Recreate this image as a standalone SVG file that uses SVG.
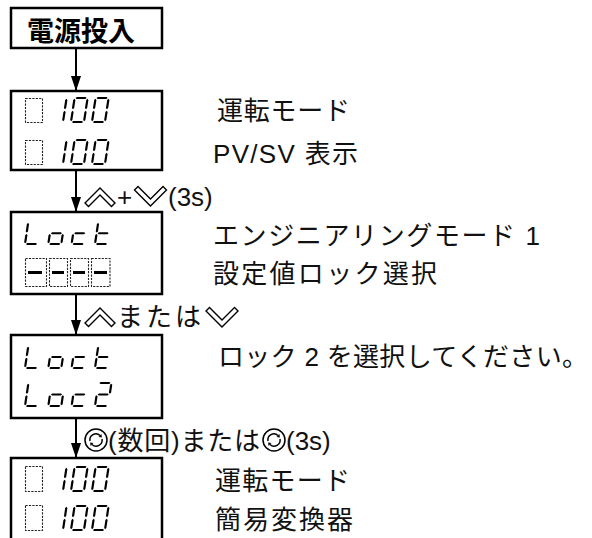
<svg xmlns="http://www.w3.org/2000/svg" width="592" height="538" viewBox="0 0 592 538">
<style>
.box{fill:none;stroke:#000;stroke-width:2.5}
.lbl{font-family:"Liberation Sans","Noto Sans CJK JP",sans-serif;font-size:26px;fill:#111}
.ttl{font-family:"Noto Sans CJK JP","Liberation Sans",sans-serif;font-size:27px;font-weight:bold;fill:#000}
.dash{fill:none;stroke:#222;stroke-width:1.1;stroke-dasharray:2.2 1.2}
.bar{fill:#000}
.conn{stroke:#000;stroke-width:2;fill:none}
.chev{fill:#fff;stroke:#000;stroke-width:1.4;stroke-linejoin:miter}
</style>
<defs>
<marker id="ah" markerUnits="userSpaceOnUse" markerWidth="15" markerHeight="10" refX="15" refY="5" orient="auto"><path d="M0,0 L15,5 L0,10 Z" fill="#000"/></marker>
<path id="h" d="M-5.5,0 L-4.4,-1.1 L4.4,-1.1 L5.5,0 L4.4,1.1 L-4.4,1.1Z"/>
<path id="v" d="M0,-5.2 L1.1,-4.1 L1.1,4.1 L0,5.2 L-1.1,4.1 L-1.1,-4.1Z"/>
<g id="c1"><use href="#v" x="13" y="-18"/><use href="#v" x="13" y="-6"/></g>
<g id="c0"><use href="#h" x="6.5" y="-24"/><use href="#v" x="13" y="-18"/><use href="#v" x="13" y="-6"/><use href="#h" x="6.5" y="0"/><use href="#v" x="0" y="-6"/><use href="#v" x="0" y="-18"/></g>
<g id="cL"><use href="#h" x="6.5" y="0"/><use href="#v" x="0" y="-6"/><use href="#v" x="0" y="-18"/></g>
<g id="co"><use href="#v" x="13" y="-6"/><use href="#h" x="6.5" y="0"/><use href="#v" x="0" y="-6"/><use href="#h" x="6.5" y="-12"/></g>
<g id="cc"><use href="#h" x="6.5" y="0"/><use href="#v" x="0" y="-6"/><use href="#h" x="6.5" y="-12"/></g>
<g id="ct"><use href="#h" x="6.5" y="0"/><use href="#v" x="0" y="-6"/><use href="#v" x="0" y="-18"/><use href="#h" x="6.5" y="-12"/></g>
<g id="c2"><use href="#h" x="6.5" y="-24"/><use href="#v" x="13" y="-18"/><use href="#h" x="6.5" y="-12"/><use href="#v" x="0" y="-6"/><use href="#h" x="6.5" y="0"/></g>
<path id="up" class="chev" d="M-15,7 L0,-8 L15,7 L11.5,10.5 L0,-1 L-11.5,10.5Z"/>
<path id="dn" class="chev" d="M-16,-8 L0,8 L16,-8 L12.5,-11.5 L0,1 L-12.5,-11.5Z"/>
<g id="rotarr"><path d="M-6,1 A6,6 0 0 1 4,-4.5" fill="none" stroke="#000" stroke-width="1.5"/><path d="M5.9,-2.6 L5.4,-6 L2.6,-3Z" fill="#000"/></g>
<g id="rot"><circle r="11" fill="#fff" stroke="#000" stroke-width="1.5"/><use href="#rotarr"/><use href="#rotarr" transform="rotate(180)"/></g>
</defs>
<rect width="592" height="538" fill="#fff"/>

<g id="connectors">
<line class="conn" x1="76" y1="48" x2="76" y2="91" marker-end="url(#ah)"/>
<line class="conn" x1="76" y1="170" x2="76" y2="212" marker-end="url(#ah)"/>
<line class="conn" x1="76" y1="294" x2="76" y2="335" marker-end="url(#ah)"/>
<line class="conn" x1="76" y1="418" x2="76" y2="458" marker-end="url(#ah)"/>
<g id="lbl-a2">
<use href="#up" x="100" y="196"/>
<text class="lbl" x="117" y="206">+</text>
<use href="#dn" x="150.5" y="198"/>
<text class="lbl" x="168" y="206">(3s)</text>
</g>
<g id="lbl-a3">
<use href="#up" x="100" y="316"/>
<text class="lbl" x="117" y="326" textLength="84" lengthAdjust="spacing">または</text>
<use href="#dn" x="222" y="319"/>
</g>
<g id="lbl-a4">
<use href="#rot" x="96" y="440"/>
<text class="lbl" x="108" y="450" textLength="152" lengthAdjust="spacing">(数回)または</text>
<use href="#rot" x="274" y="440"/>
<text class="lbl" x="286" y="450">(3s)</text>
</g>
</g>

<g id="node-power">
<rect class="box" x="11" y="8" width="151" height="40"/>
<text class="ttl" x="27" y="41">電源投入</text>
</g>

<g id="node-run1">
<rect class="box" x="11" y="91" width="151" height="79"/>
<rect class="dash" x="25.5" y="98.5" width="17" height="24"/>
<use href="#c1" transform="translate(50,122) skewX(-8.5)"/>
<use href="#c0" transform="translate(71,122) skewX(-8.5)"/>
<use href="#c0" transform="translate(92,122) skewX(-8.5)"/>
<rect class="dash" x="25.5" y="140.5" width="17" height="24"/>
<use href="#c1" transform="translate(50,164) skewX(-8.5)"/>
<use href="#c0" transform="translate(71,164) skewX(-8.5)"/>
<use href="#c0" transform="translate(92,164) skewX(-8.5)"/>
<text class="lbl" x="217" y="120" textLength="133" lengthAdjust="spacing">運転モード</text>
<text class="lbl" x="213" y="163" textLength="145" lengthAdjust="spacing">PV/SV 表示</text>
</g>

<g id="node-eng">
<rect class="box" x="11" y="212" width="151" height="82"/>
<use href="#cL" transform="translate(25,244) skewX(-8.5) scale(1,0.9)"/>
<use href="#co" transform="translate(48.3,244) skewX(-8.5) scale(1,0.9)"/>
<use href="#cc" transform="translate(71.6,244) skewX(-8.5) scale(1,0.9)"/>
<use href="#ct" transform="translate(95,244) skewX(-8.5) scale(1,0.9)"/>
<rect class="dash" x="25.5" y="258.5" width="21" height="28"/>
<rect class="dash" x="49.5" y="258.5" width="18" height="28"/>
<rect class="dash" x="70.5" y="258.5" width="18" height="28"/>
<rect class="dash" x="91.5" y="258.5" width="18.5" height="28"/>
<rect class="bar" x="28" y="271" width="14" height="3"/>
<rect class="bar" x="52" y="271" width="12" height="3"/>
<rect class="bar" x="73" y="271" width="12" height="3"/>
<rect class="bar" x="94" y="271" width="13" height="3"/>
<text class="lbl" x="213" y="245" textLength="327" lengthAdjust="spacing">エンジニアリングモード 1</text>
<text class="lbl" x="213" y="283" textLength="224" lengthAdjust="spacing">設定値ロック選択</text>
</g>

<g id="node-lock2">
<rect class="box" x="11" y="335" width="151" height="83"/>
<use href="#cL" transform="translate(25,368) skewX(-8.5) scale(1,0.92)"/>
<use href="#co" transform="translate(48.3,368) skewX(-8.5) scale(1,0.92)"/>
<use href="#cc" transform="translate(71.6,368) skewX(-8.5) scale(1,0.92)"/>
<use href="#ct" transform="translate(95,368) skewX(-8.5) scale(1,0.92)"/>
<use href="#cL" transform="translate(25,406) skewX(-8.5) scale(1,0.96)"/>
<use href="#co" transform="translate(48.3,406) skewX(-8.5) scale(1,0.96)"/>
<use href="#cc" transform="translate(71.6,406) skewX(-8.5) scale(1,0.96)"/>
<use href="#c2" transform="translate(95,406) skewX(-8.5) scale(1,0.96)"/>
<text class="lbl" x="218" y="366" textLength="370" lengthAdjust="spacing">ロック 2 を選択してください。</text>
</g>

<g id="node-run2">
<rect class="box" x="11" y="458" width="151" height="100"/>
<rect class="dash" x="25.5" y="466.5" width="17" height="25"/>
<use href="#c1" transform="translate(50,491) skewX(-8.5)"/>
<use href="#c0" transform="translate(71,491) skewX(-8.5)"/>
<use href="#c0" transform="translate(92,491) skewX(-8.5)"/>
<rect class="dash" x="25.5" y="505.5" width="17" height="25"/>
<use href="#c1" transform="translate(50,530) skewX(-8.5)"/>
<use href="#c0" transform="translate(71,530) skewX(-8.5)"/>
<use href="#c0" transform="translate(92,530) skewX(-8.5)"/>
<text class="lbl" x="215" y="490" textLength="135" lengthAdjust="spacing">運転モード</text>
<text class="lbl" x="215" y="529" textLength="138" lengthAdjust="spacing">簡易変換器</text>
</g>
</svg>
